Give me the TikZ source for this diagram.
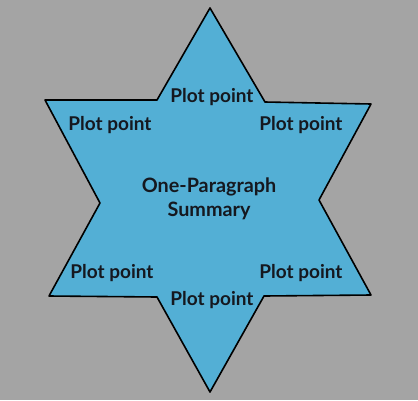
\documentclass[tikz,border=0pt]{standalone}
\usepackage{fontspec}
\setmainfont{Lato}
\usepackage{xcolor}
\usepackage{tikz}
\usetikzlibrary{positioning}
\definecolor{bggray}{HTML}{A4A4A4}
\definecolor{starblue}{HTML}{53AFD5}
\definecolor{ink}{HTML}{15181F}
\tikzstyle{point}=[font=\bfseries\fontsize{19}{24}\selectfont,text=ink,inner sep=0pt]
\tikzstyle{summary}=[point,font=\bfseries\fontsize{19.8}{24}\selectfont,align=center]
\tikzstyle{outline}=[draw=black,line width=1.6pt,fill=starblue,line join=round]

\begin{document}
\begin{tikzpicture}[x=1pt,y=-1pt]
	\fill[bggray] (0,0) rectangle (418,400);
	\useasboundingbox (0,0) rectangle (418,400);
	
	% star corners
	\coordinate (top) at (210,8);
	\coordinate (iur) at (265,102);
	\coordinate (our) at (371,104);
	\coordinate (ir) at (319,200);
	\coordinate (olr) at (371,295);
	\coordinate (ilr) at (264,296);
	\coordinate (bot) at (210,392);
	\coordinate (ill) at (157,297);
	\coordinate (oll) at (49,296);
	\coordinate (il) at (100,203);
	\coordinate (oul) at (45,100);
	\coordinate (iul) at (157,100);
	
	\path[outline] (top) -- (iur) -- (our) -- (ir) -- (olr) -- (ilr) 
	-- (bot) -- (ill) -- (oll) -- (il) -- (oul) -- (iul) -- cycle;
	
	\node[summary] (sum) at (209,199) {One-Paragraph\\Summary};
	
	\node[point] (ppt) at (212,97) {Plot point};
	\node[point] (pul) at (110,125) {Plot point};
	\node[point] (pur) at (301,125) {Plot point};
	\node[point] (pll) at (112,273) {Plot point};
	\node[point] (plr) at (301,273) {Plot point};
	\node[point] (ppb) at (212,300) {Plot point};
\end{tikzpicture}
\end{document}
